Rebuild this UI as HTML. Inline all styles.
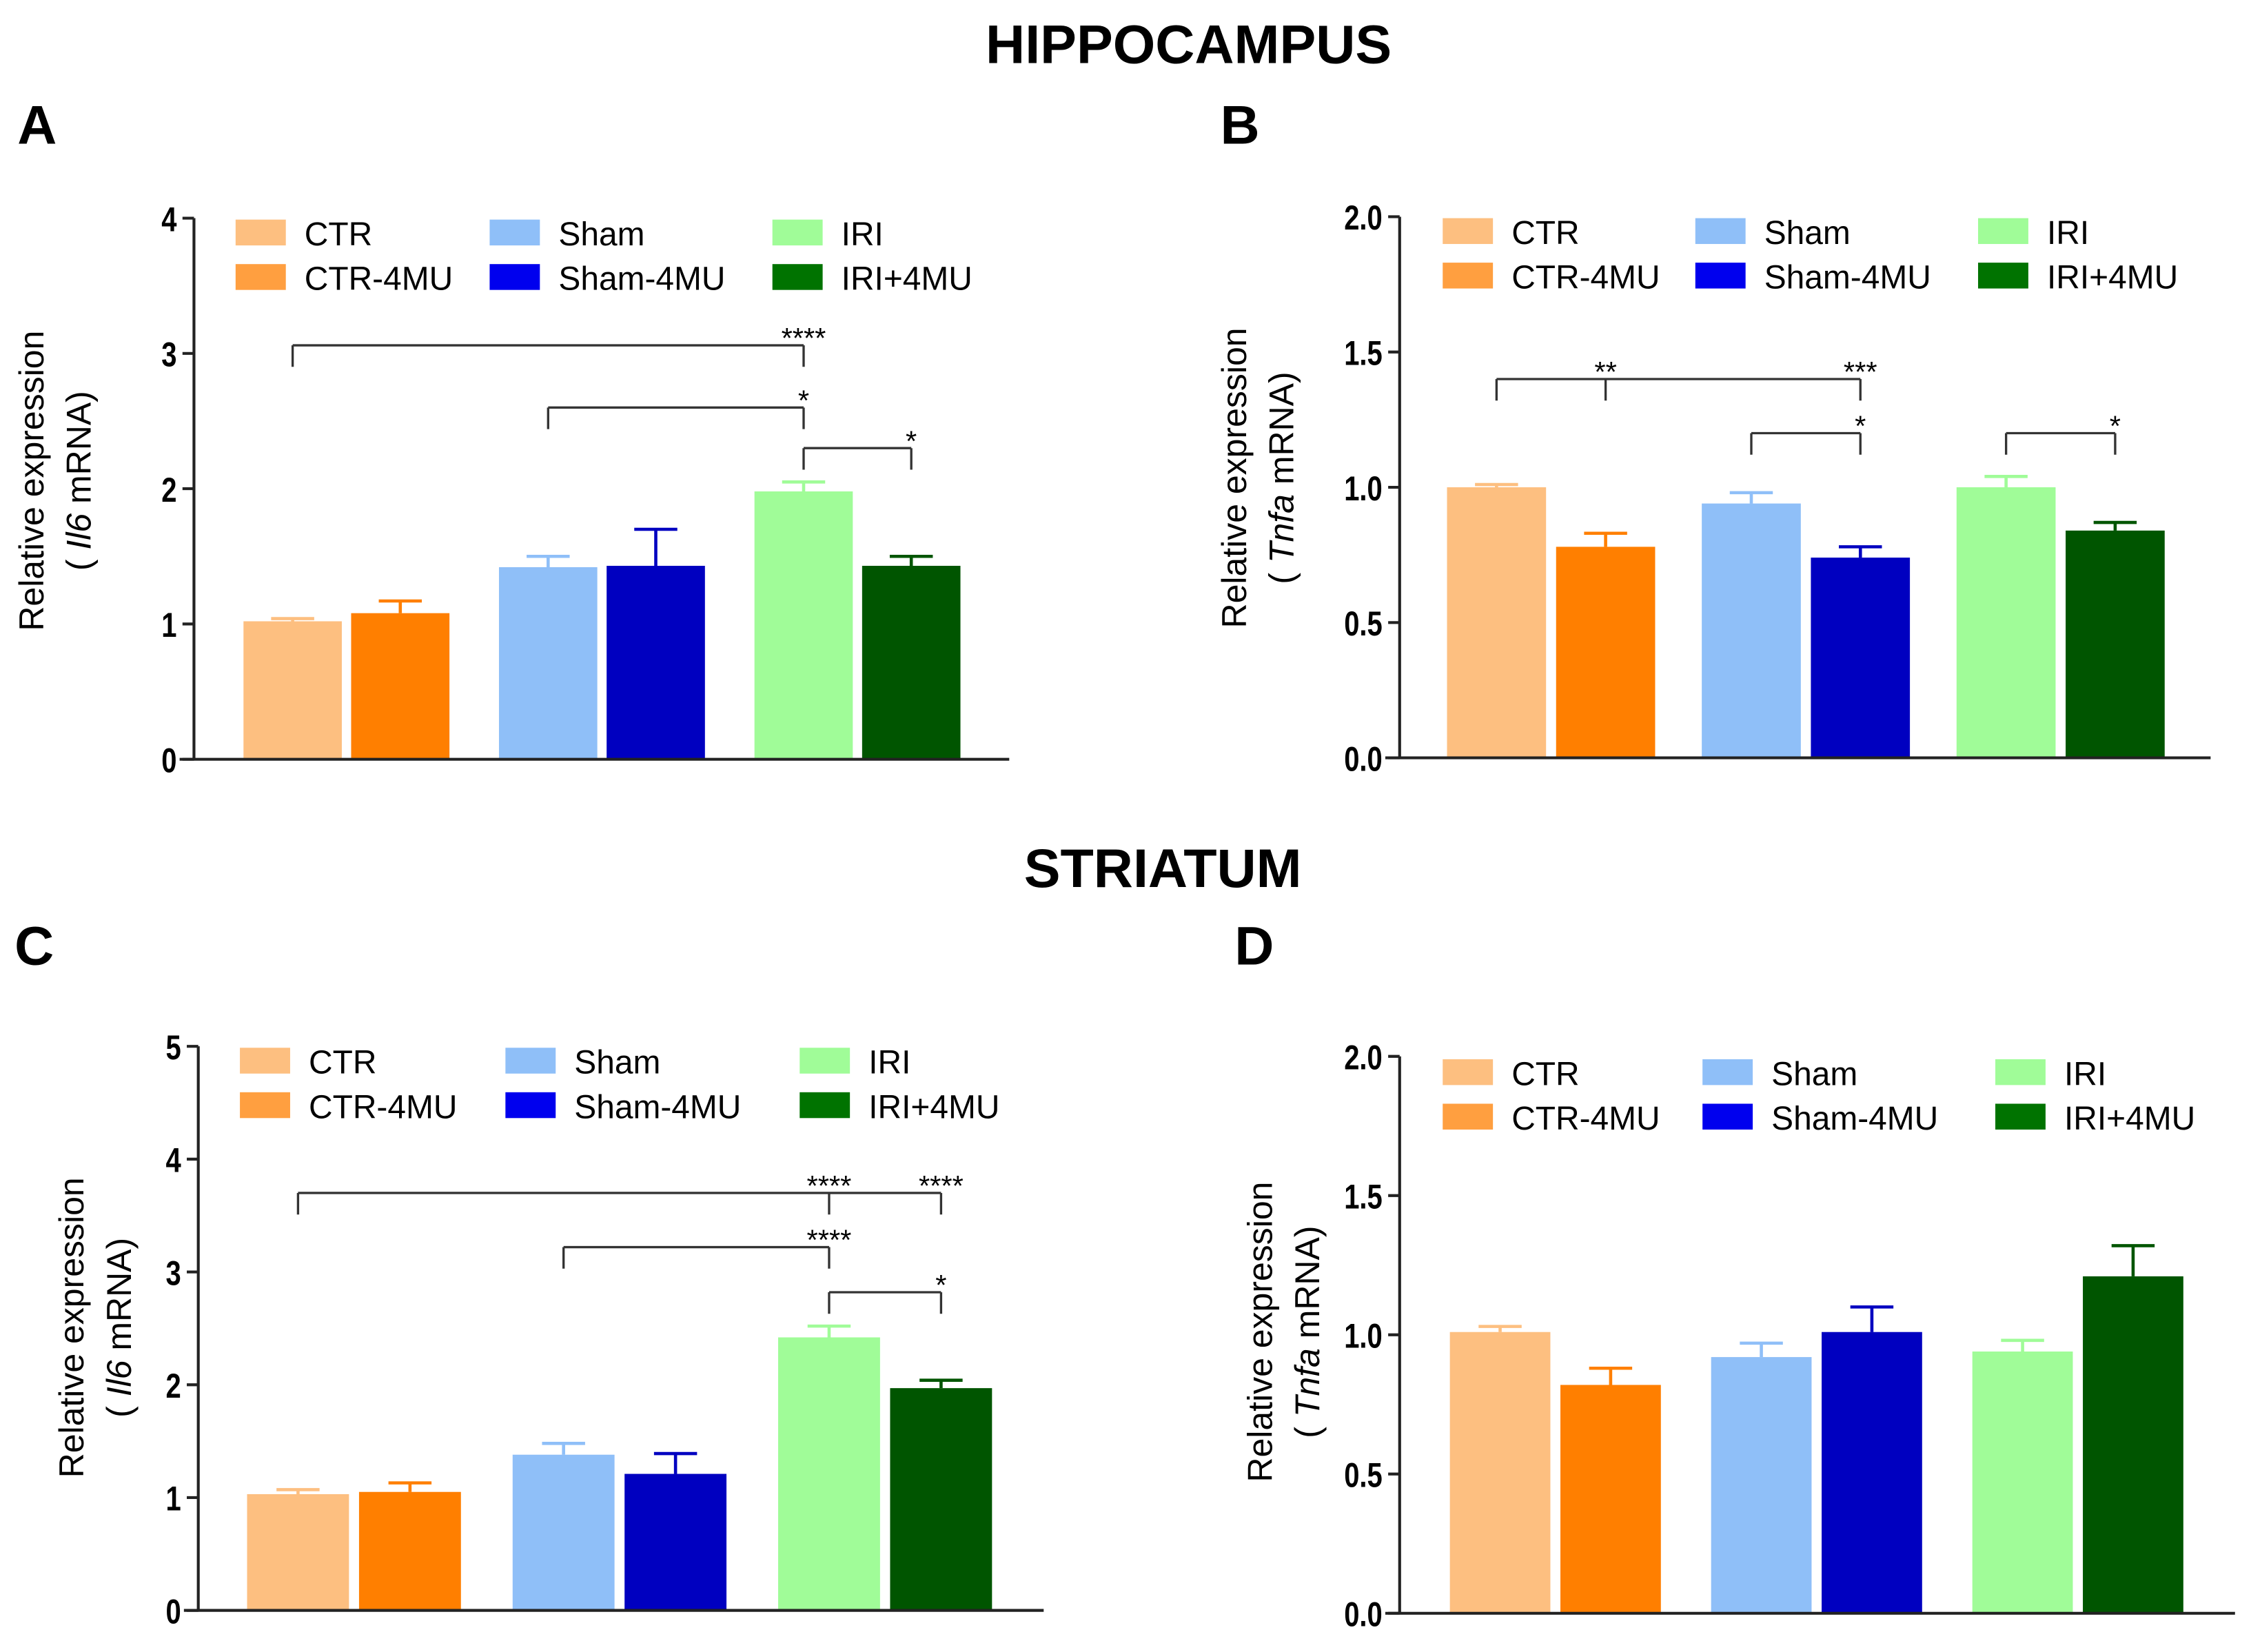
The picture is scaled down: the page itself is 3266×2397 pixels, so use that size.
<!DOCTYPE html>
<html><head><meta charset="utf-8"><style>
html,body{margin:0;padding:0;background:#fff;}
svg{display:block;}
text{font-family:"Liberation Sans",sans-serif;}
.tick{font-weight:bold;font-size:24px;}
.leg{font-size:23px;}
.ttl{font-weight:bold;font-size:38px;}
.ylab{font-size:24px;}
.star{font-size:20px;}
</style></head><body>
<svg id="fig" xmlns="http://www.w3.org/2000/svg" width="3266" height="2397" viewBox="0 0 1568 1151">
<text class="ttl" x="828" y="44" text-anchor="middle">HIPPOCAMPUS</text>
<text class="ttl" x="810" y="618" text-anchor="middle">STRIATUM</text>
<text class="ttl" x="12" y="100">A</text>
<text class="ttl" x="850" y="100">B</text>
<text class="ttl" x="10" y="672">C</text>
<text class="ttl" x="860" y="672">D</text>
</svg>
<script>
const groups = ["CTR","CTR-4MU","Sham","Sham-4MU","IRI","IRI+4MU"];
const barColors = ["#FDBF80","#FF7F00","#8FBFF8","#0000C0","#A0FC98","#005500"];
const legendColors = ["#FDBF80","#FF9F40","#8FBFF8","#0000EE","#A0FC98","#007300"];
const valuesA = [1.02,1.08,1.42,1.43,1.98,1.43];
const errorsA = [1.04,1.17,1.50,1.70,2.05,1.50];
const valuesB = [1.00,0.78,0.94,0.74,1.00,0.84];
const errorsB = [1.01,0.83,0.98,0.78,1.04,0.87];
const valuesC = [1.03,1.05,1.38,1.21,2.42,1.97];
const errorsC = [1.07,1.13,1.48,1.39,2.52,2.04];
const valuesD = [1.01,0.82,0.92,1.01,0.94,1.21];
const errorsD = [1.03,0.88,0.97,1.10,0.98,1.32];
const ticksA = [0,1,2,3,4];
const ticksB = [0,0.5,1.0,1.5,2.0];
const ticksC = [0,1,2,3,4,5];
const ticksD = [0,0.5,1.0,1.5,2.0];
const tickLabelsAB = {A:["0","1","2","3","4"],B:["0.0","0.5","1.0","1.5","2.0"],C:["0","1","2","3","4","5"],D:["0.0","0.5","1.0","1.5","2.0"]};
const bracketsA = [[0,4,3.06,[0,4],[[4,"****"]]],[2,4,2.6,[2,4],[[4,"*"]]],[4,5,2.3,[4,5],[[5,"*"]]]];
const bracketsB = [[0,3,1.40,[0,1,3],[[1,"**"],[3,"***"]]],[2,3,1.20,[2,3],[[3,"*"]]],[4,5,1.20,[4,5],[[5,"*"]]]];
const bracketsC = [[0,5,3.7,[0,4,5],[[4,"****"],[5,"****"]]],[2,4,3.22,[2,4],[[4,"****"]]],[4,5,2.82,[4,5],[[5,"*"]]]];
const bracketsD = [];

const svg = document.getElementById('fig');
const NS = "http://www.w3.org/2000/svg";
function mk(tag, attrs, parent){const e=document.createElementNS(NS,tag);for(const k in attrs)e.setAttribute(k,attrs[k]);(parent||svg).appendChild(e);return e;}

function panel(cfg){
  const g = mk('g',{});
  
  
  const ymax = cfg.ticks[cfg.ticks.length-1];
  const yS = v => cfg.y0 - (v/ymax)*(cfg.y0-cfg.yTop);
  const xS = i => cfg.x0 + Math.floor(i/2)*cfg.groupStep + (i%2)*cfg.pairStep;
  const cx = i => xS(i)+cfg.bw/2;
  cfg.values.forEach((v,i)=>{
    const ey = yS(cfg.errors[i]);
    const l = mk('path',{d:`M${cx(i)},${yS(v)} V${ey} M${cx(i)-15},${ey} H${cx(i)+15}`,stroke:barColors[i],'stroke-width':2.2,fill:'none'},g);
    
    
    const r = mk('rect',{x:xS(i),y:yS(v),width:cfg.bw,height:cfg.y0-yS(v),fill:barColors[i]},g);
    
    
  });
  const ax = mk('path',{d:`M${cfg.ax},${cfg.yTop} V${cfg.y0} M${cfg.ax-10},${cfg.y0} H${cfg.axEnd}`,stroke:'#222','stroke-width':2,fill:'none'},g);
  
  
  cfg.ticks.forEach((t,k)=>{
    mk('line',{x1:cfg.ax-8,x2:cfg.ax,y1:yS(t),y2:yS(t),stroke:'#222','stroke-width':2},g);
    const tx = mk('text',{x:cfg.ax-12,y:yS(t)+9,'text-anchor':'end',class:'tick',transform:`translate(${cfg.ax-12} 0) scale(0.8 1) translate(${-(cfg.ax-12)} 0)`},g);
    tx.textContent = tickLabelsAB[cfg.id][k];
    
    
  });
  const yl = mk('text',{class:'ylab','text-anchor':'middle',transform:`translate(${cfg.ylx},${cfg.yly}) rotate(-90)`},g);
  yl.textContent = 'Relative expression';
  
  
  const yl2 = mk('text',{class:'ylab','text-anchor':'middle',transform:`translate(${cfg.ylx+33},${cfg.yly}) rotate(-90)`},g);
  yl2.innerHTML = `( <tspan font-style="italic">${cfg.gene}</tspan> mRNA)`;
  
  
  groups.forEach((name,i)=>{
    const col = Math.floor(i/2), row = i%2;
    const lx = cfg.legX[col], ly = cfg.legY + row*31;
    const s = mk('rect',{x:lx,y:ly,width:35,height:18,fill:legendColors[i]},g);
    
    
    const t = mk('text',{x:lx+48,y:ly+18,class:'leg'},g);
    t.textContent = name;
    
    
  });
  cfg.brackets.forEach(b=>{
    const y = yS(b[2]);
    let d = `M${cx(b[0])},${y} H${cx(b[1])}`;
    b[3].forEach(i=>{ d += ` M${cx(i)},${y} V${y+15}`; });
    const p = mk('path',{d,stroke:'#333','stroke-width':1.6,fill:'none'},g);
    
    
    b[4].forEach(([i,lab])=>{
      const t = mk('text',{x:cx(i),y:y+2,'text-anchor':'middle',class:'star'},g);
      t.textContent = lab;
      
      
    });
  });
}
panel({id:'A',gene:'Il6',values:valuesA,errors:errorsA,ticks:ticksA,brackets:bracketsA,ax:135,axEnd:703,y0:529,yTop:152,x0:169.5,bw:68.5,pairStep:75,groupStep:178,ylx:30,yly:335,legX:[164,341,538],legY:153});
panel({id:'B',gene:'Tnfa',values:valuesB,errors:errorsB,ticks:ticksB,brackets:bracketsB,ax:975,axEnd:1540,y0:528,yTop:151,x0:1008,bw:69,pairStep:76,groupStep:177.5,ylx:868,yly:333,legX:[1005,1181,1378],legY:152});
panel({id:'C',gene:'Il6',values:valuesC,errors:errorsC,ticks:ticksC,brackets:bracketsC,ax:138,axEnd:727,y0:1122,yTop:729,x0:172,bw:71,pairStep:78,groupStep:185,ylx:58,yly:925,legX:[167,352,557],legY:730});
panel({id:'D',gene:'Tnfa',values:valuesD,errors:errorsD,ticks:ticksD,brackets:bracketsD,ax:975,axEnd:1557,y0:1124,yTop:736,x0:1010,bw:70,pairStep:77,groupStep:182,ylx:886,yly:928,legX:[1005,1186,1390],legY:738});
</script>
</body></html>
